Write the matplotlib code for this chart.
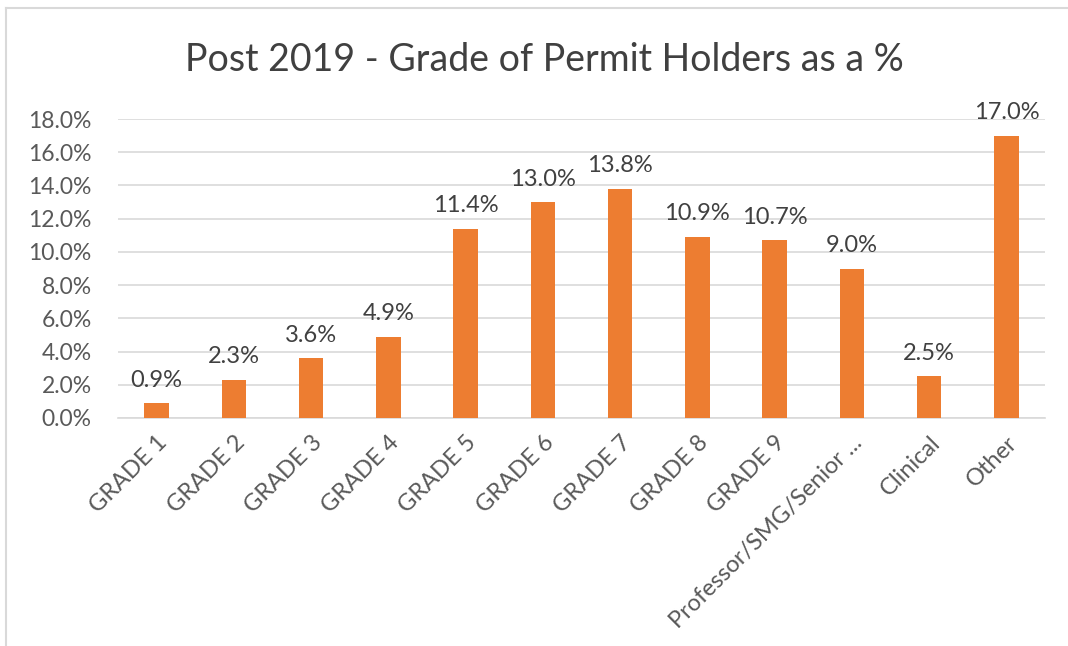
import matplotlib.pyplot as plt
from matplotlib.lines import Line2D
from matplotlib.ticker import FuncFormatter

categories = ["GRADE 1", "GRADE 2", "GRADE 3", "GRADE 4", "GRADE 5", "GRADE 6",
              "GRADE 7", "GRADE 8", "GRADE 9", "Professor/SMG/Senior ...",
              "Clinical", "Other"]
values = [0.9, 2.3, 3.6, 4.9, 11.4, 13.0, 13.8, 10.9, 10.7, 9.0, 2.5, 17.0]
yticks = [0, 2, 4, 6, 8, 10, 12, 14, 16, 18]

plt.rcParams["font.family"] = ["Lato", "DejaVu Sans"]

fig = plt.figure(figsize=(10.68, 6.46), dpi=100)
ax = fig.add_axes([118 / 1068, 1 - 418 / 646, (1045 - 118) / 1068, (418 - 119) / 646])

x = range(len(categories))
ax.bar(x, values, width=0.32, color="#ED7D31", zorder=3)
for xi, v in zip(x, values):
    ax.annotate(f"{v:.1f}%", (xi, v), xytext=(0, 9), textcoords="offset points",
                ha="center", va="bottom", fontsize=17, color="#404040")

ax.set_xlim(-0.5, len(categories) - 0.5)
ax.set_ylim(0, 18)
ax.set_yticks(yticks)
ax.yaxis.set_major_formatter(FuncFormatter(lambda v, p: f"{v:.1f}%"))
ax.grid(True, axis="y", color="#D9D9D9", linewidth=1.2, zorder=0)
for s in ["top", "right", "left"]:
    ax.spines[s].set_visible(False)
ax.spines["bottom"].set_color("#D9D9D9")
ax.spines["bottom"].set_linewidth(1.2)
ax.tick_params(axis="both", length=0, labelsize=16.5, labelcolor="#595959")
ax.tick_params(axis="y", pad=19)
ax.set_xticks(list(x))
ax.set_xticklabels(categories, rotation=45, ha="right", rotation_mode="anchor")
ax.tick_params(axis="x", pad=10, labelsize=17)

fig.text(544 / 1068, 1 - 60 / 646, "Post 2019 - Grade of Permit Holders as a %",
         ha="center", va="center", fontsize=27, color="#404040")

# chart border (only top and left edges visible in the crop)
fig.add_artist(Line2D([6 / 1068, 1.0], [1 - 8 / 646, 1 - 8 / 646],
                      transform=fig.transFigure, color="#D9D9D9", linewidth=1.5))
fig.add_artist(Line2D([6 / 1068, 6 / 1068], [0, 1 - 8 / 646],
                      transform=fig.transFigure, color="#D9D9D9", linewidth=1.5))

fig.savefig("out.png", dpi=100, facecolor="white")
